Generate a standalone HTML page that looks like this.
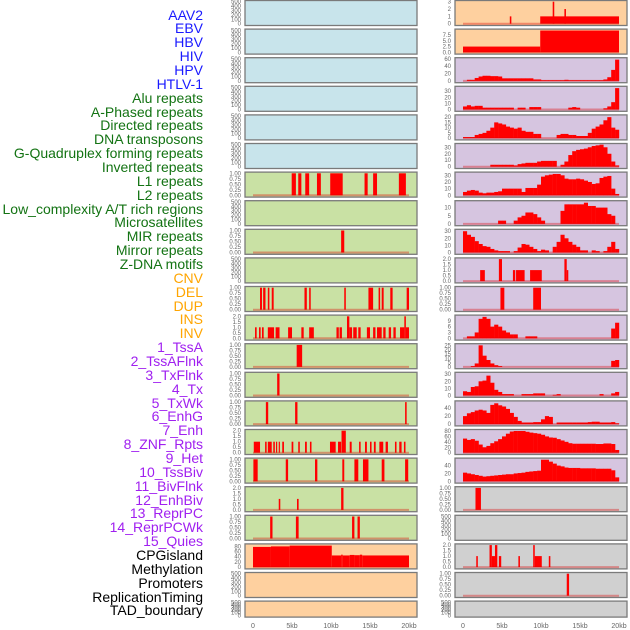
<!DOCTYPE html>
<html><head><meta charset="utf-8"><style>
html,body{margin:0;padding:0;background:#fff;width:630px;height:630px;overflow:hidden;font-family:"Liberation Sans",sans-serif}
.lbl{position:absolute;right:427px;font-size:14px;line-height:14px;white-space:nowrap}
svg{position:absolute;left:0;top:0}
</style></head><body>
<div id="labels"></div>
<svg id="chart" width="630" height="630"></svg>
<script>
const labelNames=["AAV2","EBV","HBV","HIV","HPV","HTLV-1","Alu repeats","A-Phased repeats","Directed repeats","DNA transposons","G-Quadruplex forming repeats","Inverted repeats","L1 repeats","L2 repeats","Low_complexity A/T rich regions","Microsatellites","MIR repeats","Mirror repeats","Z-DNA motifs","CNV","DEL","DUP","INS","INV","1_TssA","2_TssAFlnk","3_TxFlnk","4_Tx","5_TxWk","6_EnhG","7_Enh","8_ZNF_Rpts","9_Het","10_TssBiv","11_BivFlnk","12_EnhBiv","13_ReprPC","14_ReprPCWk","15_Quies","CPGisland","Methylation","Promoters","ReplicationTiming","TAD_boundary"];
const labelGroups=[6,13,5,15,5];
const groupColors=["#1a1aff","#137313","#ffa500","#a020f0","#000000"];
const xTicks=[0,5,10,15,20];
const xTickLabels=["0","5kb","10kb","15kb","20kb"];

const l7Segs=[[4.96,5.5,1],[5.8,6.2,1],[6.7,7.2,1],[8.2,8.7,1],[9.9,11.5,1],[14.3,14.7,1],[15.4,15.9,1],[18.7,19.6,1]];
const l9Segs=[[11.3,11.7,1]];
const l11Segs=[[0.9,1.15,1],[1.3,1.6,1],[1.9,2.1,1],[2.4,2.65,1],[6.6,6.9,1],[7.2,7.4,1],[11.7,11.9,1],[14.8,15.4,1],[16.1,16.3,1],[16.5,16.75,1],[17.6,17.9,1],[19.7,20.0,1]];
const l12Segs=[[0.26,0.47,1],[0.77,0.98,1],[1.15,1.37,1],[1.9,2.7,1],[2.9,3.4,1],[4.5,5.0,1],[6.2,6.5,1],[7.2,7.8,1],[10.7,11.0,1],[11.1,11.4,1],[12.05,12.35,2],[12.35,12.7,1],[12.85,13.3,1],[13.5,13.8,1],[14.6,15.0,1],[15.4,15.7,1],[15.9,16.5,1],[16.7,17.0,1],[17.4,17.7,1],[18.0,18.3,1],[18.85,19.4,1],[19.4,19.6,2],[19.6,20.0,1]];
const l13Segs=[[5.6,6.3,1]];
const l14Segs=[[3.1,3.4,1]];
const l15Segs=[[1.65,1.95,1],[5.4,5.7,1],[19.5,19.7,1]];
const l16Segs=[[0.1,0.9,1],[1.55,1.75,1],[1.9,2.4,1],[2.6,2.8,1],[2.95,3.1,1],[3.3,3.45,1],[3.75,3.97,1],[4.95,5.17,1],[5.8,6.0,1],[6.67,6.9,1],[7.3,7.5,1],[9.87,10.6,1],[10.9,11.3,1],[11.35,11.9,2],[12.4,12.65,1],[13.6,13.8,1],[14.36,14.6,1],[15.0,15.2,1],[15.5,15.73,1],[16.2,16.7,1],[17.0,17.3,1],[18.2,18.4,1],[18.75,19.05,1],[19.35,19.55,1]];
const l17Segs=[[0.05,0.6,1],[4.2,4.5,1],[7.95,8.25,1],[11.45,11.7,1],[13.0,13.5,1],[14.1,14.8,1],[16.5,16.85,1],[19.5,19.9,1]];
const l18Segs=[[3.3,3.5,1],[5.64,5.85,1],[11.3,11.6,2]];
const l19Segs=[[2.2,2.5,1],[5.5,5.85,1],[12.7,13.0,1],[13.4,13.7,1]];
const l20Segs=[[0,2.3,78],[2.3,4.7,80],[4.7,10.1,83],[10.1,11.3,45],[11.3,11.5,48],[11.5,12.4,45],[12.4,13.0,47],[13.0,13.7,46],[13.7,14.0,48],[14.0,20.0,45]];

const r1Segs=[[6.0,6.2,1],[9.9,20,1],[11.5,11.7,3],[13.0,13.2,2]];
const r2Segs=[[0,9.9,2.5],[9.9,20,9.5]];
const r3Bins=[0,3,3,8,12,14,14,13,13,12,7,7,7,7,7,7,7,7,4,4,2,2,2,2,2,2,3,2,2,2,2,2,2,2,2,2,4,10,30,58];
const r4Bins=[5,7,5,6,6,3,3,3,3,3,3,3,3,0,3,3,0,4,4,4,0,0,0,0,0,0,0,3,4,3,0,0,0,0,0,0,2,5,12,35];
const r5Bins=[1,1,1,3,4,5,7,10,15,14,13,11,10,9,10,7,6,6,4,4,0,0,0,0,3,4,4,3,3,2,2,2,5,9,11,13,17,20,10,8];
const r6Bins=[0,0,0,0,0,0,0,3,3,3,3,3,3,2,4,5,6,6,6,8,9,9,9,9,0,3,8,18,24,26,27,28,30,32,33,34,30,20,8,2];
const r7Bins=[5,7,8,7,4,3,4,4,5,6,10,10,10,10,10,5,11,11,11,16,28,30,31,32,32,30,25,24,24,25,24,22,20,17,18,26,28,29,10,2];
const r8Bins=[0,0,0,0,0,0,0,0,0,2,2,0,0,2,4,5,7,7,6,4,2,0,0,0,0,8,12,12,12,12,12,13,11,11,10,10,10,6,5,0];
const r9Bins=[30,25,22,16,12,9,8,5,3,2,2,2,0,2,7,12,11,8,5,2,4,3,0,8,15,25,20,15,11,8,3,3,0,3,2,0,2,8,15,5];
const r10Segs=[[2.2,2.8,1],[4.6,5.0,2],[6.4,6.7,1],[6.8,7.9,1],[8.6,10.1,1],[13.0,13.3,2],[13.3,13.5,1]];
const r11Segs=[[4.8,5.3,1],[9.0,10.0,1]];
const r12Bins=[0,1,1,3,10,11,10,6,7,6,4,3,2,2,0,0,1,1,1,0,0,0,0,0,0,0,0,0,0,0,0,0,0,0,0,0,0,0,5,8];
const r13Bins=[0,0,1,4,25,13,8,4,2,1,0,0,0,0,0,0,0,0,0,0,0,0,0,0,0,0,0,0,0,0,0,0,0,0,0,0,0,0,7,8];
const r14Bins=[6,5,12,13,20,21,28,18,8,5,2,2,2,0,0,2,2,2,3,3,3,0,0,1,2,0,0,0,0,0,0,0,0,0,0,2,0,0,3,5];
const r15Bins=[20,27,30,34,36,34,28,48,52,47,44,38,28,18,8,4,4,4,5,5,12,20,18,0,4,4,4,4,4,4,4,4,5,6,6,4,4,4,5,2];
const r16Bins=[52,47,50,44,30,20,25,35,42,50,60,70,78,80,80,80,77,74,72,70,66,60,56,55,50,45,40,35,33,33,33,33,33,33,32,32,34,34,32,10];
const r17Bins=[22,20,18,16,14,12,13,14,15,16,17,18,18,20,21,22,24,25,26,27,55,55,50,45,40,38,35,34,34,34,33,33,33,33,32,32,32,32,28,10];
const r18Segs=[[1.6,2.3,1]];
const r20Segs=[[1.7,1.9,1],[3.4,3.7,2],[3.7,4.1,1],[4.1,4.4,2],[4.6,4.9,1],[7.1,7.3,1],[9.0,9.2,2],[9.2,10.1,1],[11.0,11.2,1]];
const r21Segs=[[13.3,13.6,1]];

const BLUE="#c8e4eb",GREEN="#c9e1a4",PEACH="#fed09f",LAV="#d6c5e0",GRAY="#d0d0d0";
const E={t:[0,100,200,300,400,500],d:0,max:500},U1={t:[0,0.25,0.5,0.75,1],d:2,max:1},U2={t:[0,0.5,1,1.5,2],d:1,max:2};
function A(t,d,max){return {t:t,d:d,max:max};}
const leftRows=[
[BLUE,E,null],[BLUE,E,null],[BLUE,E,null],[BLUE,E,null],[BLUE,E,null],[BLUE,E,null],
[GREEN,U1,l7Segs],[GREEN,E,null],[GREEN,U1,l9Segs],[GREEN,E,null],[GREEN,U1,l11Segs],[GREEN,U2,l12Segs],
[GREEN,U1,l13Segs],[GREEN,U1,l14Segs],[GREEN,U1,l15Segs],[GREEN,U2,l16Segs],[GREEN,U1,l17Segs],[GREEN,U2,l18Segs],
[GREEN,U1,l19Segs],[PEACH,A([0,20,40,60,80],0,85),l20Segs],[PEACH,E,null],[PEACH,E,null]];
const rightRows=[
[PEACH,A([0,1,2,3],0,3),r1Segs],[PEACH,A([0,2.5,5,7.5],1,9.6),r2Segs],
[LAV,A([0,20,40,60],0,60),r3Bins],[LAV,A([0,10,20,30],0,36),r4Bins],[LAV,A([0,5,10,15,20],0,21),r5Bins],
[LAV,A([0,10,20,30],0,34),r6Bins],[LAV,A([0,10,20,30],0,33),r7Bins],[LAV,A([0,5,10],0,13.5),r8Bins],
[LAV,A([0,10,20,30],0,31),r9Bins],[LAV,U2,r10Segs],[LAV,U1,r11Segs],[LAV,A([0,3,6,9],0,11.3),r12Bins],
[LAV,A([0,5,10,15,20,25],0,25.5),r13Bins],[LAV,A([0,10,20,30],0,31),r14Bins],[LAV,A([0,20,40],0,55),r15Bins],
[LAV,A([0,20,40,60,80],0,81),r16Bins],[LAV,A([0,20,40],0,56),r17Bins],[GRAY,U1,r18Segs],[GRAY,E,null],
[GRAY,U2,r20Segs],[GRAY,U1,r21Segs],[GRAY,E,null]];

const lab=document.getElementById('labels');
let gi=0,gc=0;
labelNames.forEach((n,i)=>{
  const d=document.createElement('div');
  
  
  d.className='lbl';
  d.style.top=(15+i*13.86-7.5)+'px';
  d.style.color=groupColors[gi];
  d.textContent=n;
  lab.appendChild(d);
  gc++; if(gc>=labelGroups[gi]){gi++;gc=0;}
});

const svg=document.getElementById('chart');
const NS="http://www.w3.org/2000/svg";
function el(tag,attrs,parent){const e=document.createElementNS(NS,tag);for(const k in attrs)e.setAttribute(k,attrs[k]);(parent||svg).appendChild(e);return e;}

function drawPanel(px,x0,row,i,side){
  const top=0.5+i*28.6, h=(i===21?16:25);
  const bot=top+h;
  const g=el('g',{});
  
  
  el('rect',{x:px,y:top,width:172,height:h,fill:row[0],stroke:'#7a7a7a','stroke-width':1.3},g);
  const ax=row[1];
  const xs=kb=>x0+kb*7.8;
  const ys=v=>bot-1.8-(v/ax.max)*(h-3);
  ax.t.forEach(t=>{
    const tx=el('text',{x:px-4,y:ys(t)+2,'font-size':'6','text-anchor':'end',fill:'#666','font-family':'Liberation Sans, sans-serif'},g);
    
    
    tx.textContent=t.toFixed(ax.d);
  });
  const data=row[2];
  if(data){
    if(Array.isArray(data[0])){
      data.forEach(s=>{
        const r=el('rect',{x:xs(s[0]),y:ys(s[2]),width:Math.max(0.8,xs(s[1])-xs(s[0])),height:ys(0)-ys(s[2]),fill:'#ff0000'},g);
        
        
      });
    } else {
      data.forEach((v,k)=>{
        if(v<=0)return;
        const r=el('rect',{x:xs(k*0.5),y:ys(v),width:7.8*0.5+0.2,height:ys(0)-ys(v),fill:'#ff0000'},g);
        
        
      });
    }
    const bl=el('line',{x1:xs(0),x2:xs(20),y1:ys(0),y2:ys(0),stroke:'rgba(220,0,0,0.35)','stroke-width':2},g);
    
    
  }
}
leftRows.forEach((r,i)=>drawPanel(245,253,r,i,'left'));
rightRows.forEach((r,i)=>drawPanel(455,463,r,i,'right'));

[253,463].forEach((x0,c)=>{
  xTicks.forEach((t,k)=>{
    const tx=el('text',{x:x0+t*7.8,y:628,'font-size':'7','text-anchor':'middle',fill:'#666','font-family':'Liberation Sans, sans-serif'});
    
    
    tx.textContent=xTickLabels[k];
  });
});
</script>
</body></html>
